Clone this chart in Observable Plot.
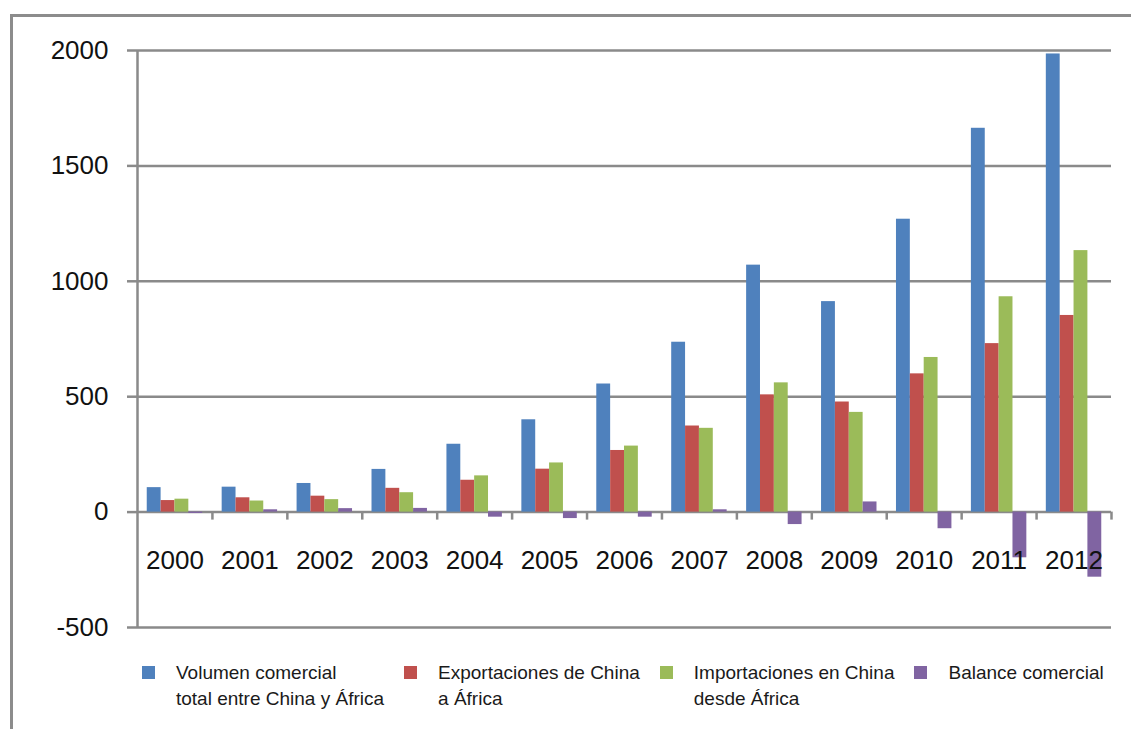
<!DOCTYPE html>
<html>
<head>
<meta charset="utf-8">
<script src="https://cdn.jsdelivr.net/npm/d3@7"></script>
<script src="https://cdn.jsdelivr.net/npm/@observablehq/plot@0.6"></script>
<style>
  html, body { margin: 0; padding: 0; background: #fff; }
  #chart { position: relative; width: 1131px; height: 729px; overflow: hidden;
           font-family: "Liberation Sans", Arial, sans-serif; }
  #border { position: absolute; left: 10px; top: 14px; width: 1200px; height: 800px;
            border-top: 3px solid #8c8c8c; border-left: 3px solid #8c8c8c; }
  #plot { position: absolute; left: 0; top: 0; }
  #legend { position: absolute; left: 142px; top: 660px; display: flex; gap: 20px;
            font-size: 19px; line-height: 26px; color: #1a1a1a; }
  .item { display: flex; align-items: flex-start; }
  .swatch { width: 13px; height: 13px; margin-top: 6px; margin-right: 21px; flex: none; }
</style>
</head>
<body>
<div id="chart">
  <div id="border"></div>
  <div id="plot"></div>
  <div id="legend"></div>
</div>
<script>
// China–Africa trade, 2000–2012 (100 million USD)
const years = ["2000", "2001", "2002", "2003", "2004", "2005", "2006",
               "2007", "2008", "2009", "2010", "2011", "2012"];
const totalTrade = [106, 108, 124, 185, 294, 400, 555, 736, 1070, 912, 1269, 1663, 1985];
const chinaExports = [50, 62, 69, 103, 138, 186, 267, 373, 508, 477, 599, 730, 852];
const chinaImports = [56, 48, 54, 84, 157, 213, 286, 363, 560, 432, 670, 933, 1133];
const tradeBalance = [-6, 10, 15, 16, -22, -28, -22, 10, -54, 44, -72, -198, -282];

const seriesLabels = [
  ["Volumen comercial", "total entre China y África"],
  ["Exportaciones de China", "a África"],
  ["Importaciones en China", "desde África"],
  ["Balance comercial"]
];
const seriesColors = ["#4f81bd", "#c0504d", "#9bbb59", "#8064a2"];
const yTicks = [-500, 0, 500, 1000, 1500, 2000];

const seriesValues = [totalTrade, chinaExports, chinaImports, tradeBalance];
const rows = years.map((year, i) => ({year, v: seriesValues.map(s => s[i])}));

// frame geometry
const W = 1131, H = 650, mL = 137, mR = 20, mT = 50, mB = 23;
const band = (W - mL - mR) / years.length;
const groupPad = band * 0.13;
const barW = (band - 2 * groupPad) / seriesValues.length;
const pxPerUnit = (H - mT - mB) / (yTicks[yTicks.length - 1] - yTicks[0]);
const gray = "#8a8a8a";

const bars = seriesValues.map((_, k) =>
  Plot.barY(rows, {
    x: "year",
    y1: 0,
    y2: d => d.v[k],
    fill: seriesColors[k],
    insetLeft: groupPad + k * barW,
    insetRight: band - groupPad - (k + 1) * barW
  })
);

const chart = Plot.plot({
  width: W,
  height: H,
  marginLeft: mL,
  marginRight: mR,
  marginTop: mT,
  marginBottom: mB,
  style: {fontFamily: "'Liberation Sans', Arial, sans-serif", fontSize: "26px", color: "#111", background: "transparent"},
  x: {type: "band", domain: years, padding: 0, round: false, axis: null},
  y: {domain: [yTicks[0], yTicks[yTicks.length - 1]]},
  marks: [
    Plot.ruleY(yTicks, {stroke: gray, strokeWidth: 2.5}),
    ...bars,
    // vertical axis line at the left edge of the first category
    Plot.ruleX([years[0]], {x: d => d, dx: -band / 2, y1: yTicks[0], y2: yTicks[yTicks.length - 1], stroke: gray, strokeWidth: 2.5}),
    // category separators hanging below the zero line
    Plot.ruleX(years.slice(1), {x: d => d, dx: -band / 2, y1: 0, y2: -8 / pxPerUnit, stroke: gray, strokeWidth: 2.5}),
    Plot.ruleX([years[years.length - 1]], {x: d => d, dx: band / 2, y1: 0, y2: -8 / pxPerUnit, stroke: gray, strokeWidth: 2.5}),
    Plot.text(years, {x: d => d, y: 0, text: d => d, dy: 49, fontSize: 26, fill: "#111"}),
    Plot.axisY(yTicks, {tickSize: 10, tickPadding: 19, stroke: gray, strokeWidth: 2.5, fill: "#111",
                        fontSize: 26, tickFormat: d => String(d), label: null})
  ]
});
document.getElementById("plot").appendChild(chart);

// legend below the chart
const legend = d3.select("#legend");
seriesLabels.forEach((lines, k) => {
  const item = legend.append("div").attr("class", "item");
  item.append("div").attr("class", "swatch").style("background", seriesColors[k]);
  item.append("div").html(lines.join("<br>"));
});
</script>
</body>
</html>
